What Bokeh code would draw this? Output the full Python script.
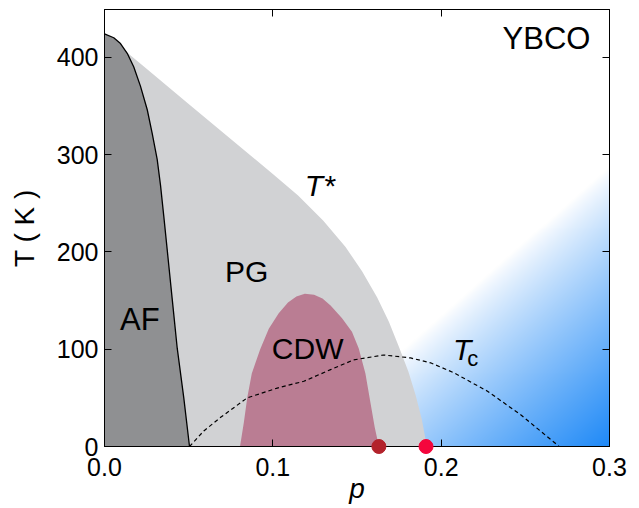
import numpy as np
from bokeh.plotting import figure
from bokeh.models import LinearAxis, FixedTicker, Label, Range1d, CustomLabelingPolicy
from bokeh.embed import file_html
from bokeh.resources import INLINE

# ---------------- data ----------------
# antiferromagnetic boundary
af_p = [0.0, 0.0055, 0.0095, 0.0135, 0.0174, 0.0214, 0.0254, 0.0283, 0.0313,
        0.0333, 0.0352, 0.0372, 0.0402, 0.0432, 0.0471, 0.0505]
af_T = [424, 420, 414, 404, 390, 370, 346, 322, 295, 268, 237, 203, 152, 101, 50, 0]

# pseudogap T* boundary
ts_p = [0.0, 0.025, 0.05, 0.075, 0.1, 0.115, 0.13, 0.1432, 0.153, 0.162, 0.169,
        0.175, 0.1805, 0.1848, 0.1885, 0.1915]
ts_T = [424, 388, 352, 316, 280, 258, 232, 205, 180, 153, 128, 102, 77, 53, 28, 0]

# CDW dome
cdw_p = [0.0805, 0.0828, 0.0848, 0.0875, 0.0925, 0.0976, 0.1035, 0.109, 0.114,
         0.119, 0.1245, 0.1295, 0.1343, 0.141, 0.147, 0.151, 0.155, 0.158,
         0.1605, 0.163]
cdw_T = [0, 25, 50, 75, 100, 121, 137, 148, 154, 157, 156, 152, 145, 132, 118,
         101, 75, 45, 20, 0]

# Tc dome (dashed)
tc_p = [0.0505, 0.059, 0.069, 0.0848, 0.1026, 0.1184, 0.1343, 0.148, 0.1658,
        0.1818, 0.1937, 0.2073, 0.2273, 0.247, 0.268, 0.27]
tc_T = [0, 16, 30, 50, 60, 67, 79, 89, 94, 91, 86, 76, 57, 33, 3, 0]

# critical points on the axis
dot_p = [0.163, 0.191]
dot_T = [0, 0]
dot_colors = ["#b3222b", "#f5063c"]

x_ticks = [0.0, 0.1, 0.2, 0.3]
x_tick_labels = ["0.0", "0.1", "0.2", "0.3"]
y_ticks = [0, 100, 200, 300, 400]

X_MAX = 0.3
Y_MAX = 449

FONT = "Liberation Sans"

p = figure(width=631, height=506, x_range=Range1d(0, X_MAX), y_range=Range1d(0, Y_MAX),
           output_backend="svg", toolbar_location=None,
           min_border_left=104, min_border_right=22, min_border_top=9, min_border_bottom=57)
p.grid.visible = False
p.background_fill_color = "white"
p.border_fill_color = "white"
p.outline_line_color = "black"

# ---------- blue gradient background (overdoped region) ----------
W, H = 505, 440
xs = np.linspace(0, W, W)
ys = np.linspace(H, 0, H)  # row 0 = bottom (y=0)
PX, PY = np.meshgrid(xs, ys)
dx, dy = 0.666, 0.746
s = ((PX - 503) * dx + (PY - 161) * dy) / 209.5
s = np.clip(s, 0, 1) ** 0.85
blue = np.array([32, 138, 247])
img = np.empty((H, W), dtype=np.uint32)
view = img.view(dtype=np.uint8).reshape((H, W, 4))
view[..., 0] = (255 * (1 - s) + blue[0] * s).astype(np.uint8)
view[..., 1] = (255 * (1 - s) + blue[1] * s).astype(np.uint8)
view[..., 2] = (255 * (1 - s) + blue[2] * s).astype(np.uint8)
view[..., 3] = 255
p.image_rgba(image=[img], x=0, y=0, dw=X_MAX, dh=Y_MAX)

# ---------- regions ----------
p.patch(ts_p + [0.0], ts_T + [0], fill_color="#d1d2d4", line_color=None)
p.patch(af_p + [0.0], af_T + [0], fill_color="#8f9092", line_color=None)
p.line(af_p, af_T, line_color="black", line_width=1.3)
p.patch(cdw_p, cdw_T, fill_color="#ba7d93", line_color=None)
p.line(tc_p, tc_T, line_color="black", line_width=1.2, line_dash="4 3")
p.scatter(dot_p, dot_T, size=14, color=dot_colors, level="overlay")

# ---------- axes ----------
for ax in (p.xaxis[0], p.yaxis[0]):
    ax.major_tick_in = 7
    ax.major_tick_out = 0
    ax.minor_tick_in = 0
    ax.minor_tick_out = 0
    ax.axis_line_color = "black"
    ax.major_tick_line_color = "black"
    ax.major_label_text_font = FONT
    ax.major_label_text_font_size = "25px"
    ax.major_label_text_color = "black"
    ax.axis_label_text_font = FONT
    ax.axis_label_text_font_size = "28px"
    ax.axis_label_text_color = "black"

p.xaxis[0].ticker = FixedTicker(ticks=x_ticks)
p.xaxis[0].major_label_overrides = {t: l for t, l in zip(x_ticks, x_tick_labels)}
p.xaxis[0].axis_label = "p"
p.xaxis[0].axis_label_text_font_style = "italic"
p.xaxis[0].major_label_standoff = 11
p.xaxis[0].axis_label_standoff = -6

p.yaxis[0].ticker = FixedTicker(ticks=y_ticks)
p.yaxis[0].axis_label = "T ( K )"
p.yaxis[0].axis_label_text_font_style = "normal"
p.yaxis[0].major_label_standoff = 6
p.yaxis[0].axis_label_standoff = 14

no_labels = CustomLabelingPolicy(code="const result = new Set(); return result")
top = LinearAxis(ticker=FixedTicker(ticks=x_ticks))
right = LinearAxis(ticker=FixedTicker(ticks=y_ticks))
for ax in (top, right):
    ax.major_tick_in = 7
    ax.major_tick_out = 0
    ax.minor_tick_in = 0
    ax.minor_tick_out = 0
    ax.axis_line_color = "black"
    ax.major_tick_line_color = "black"
    ax.major_label_text_font_size = "1px"
    ax.major_label_standoff = 0
    ax.major_label_policy = no_labels
p.add_layout(top, "above")
p.add_layout(right, "right")

# ---------- labels ----------
def lab(x, y, text, size="30px", style="normal", align="left"):
    p.add_layout(Label(x=x, y=y, text=text, text_font=FONT, text_font_size=size,
                       text_font_style=style, text_align=align,
                       text_baseline="alphabetic", text_color="black"))

lab(0.0092, 130, "AF", size="31px")
lab(0.0716, 180, "PG")
lab(0.0994, 101, "CDW")
lab(0.1190, 268, "T*", style="italic")
lab(0.2887, 419, "YBCO", size="31px", align="right")
lab(0.2070, 100, "T", style="italic")
lab(0.2155, 90, "c", size="22px")

open("out.html", "w").write(file_html(p, INLINE))
